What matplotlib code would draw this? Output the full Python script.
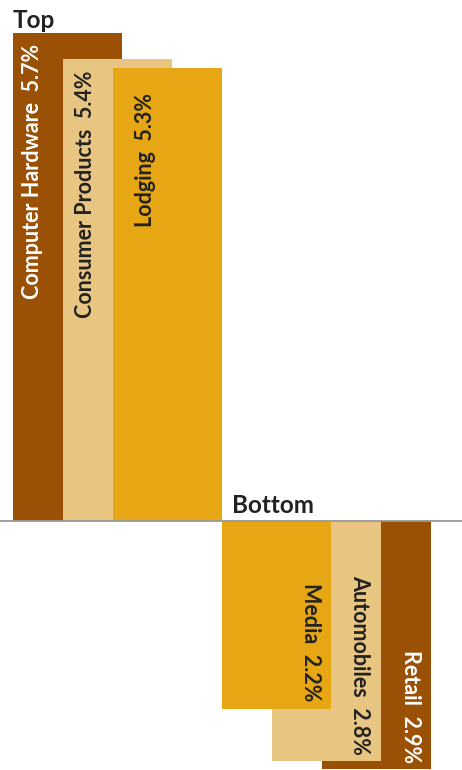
import matplotlib
matplotlib.use('Agg')
import matplotlib.pyplot as plt

top_names = ['Computer Hardware', 'Consumer Products', 'Lodging']
top_values = [5.7, 5.4, 5.3]
bottom_names = ['Media', 'Automobiles', 'Retail']
bottom_values = [2.2, 2.8, 2.9]

brown = '#9a5105'
tan = '#e8c682'
gold = '#e7a614'
top_colors = [brown, tan, gold]
bottom_colors = [gold, tan, brown]
dark = '#222222'

plt.rcParams['font.family'] = ['Lato', 'DejaVu Sans']

fig = plt.figure(figsize=(4.62, 7.7), dpi=100)
ax = fig.add_axes([0, 0, 1, 1])

width = 2.18
step = 1.0

# top group: later bars sit in front
for i, (name, v) in enumerate(zip(top_names, top_values)):
    left = i * step
    ax.bar(left, v, width=width, align='edge', color=top_colors[i], zorder=2 + i)
    ax.text(left + [0.4, 0.46, 0.64][i], v - [0.12, 0.13, 0.3][i],
            f'{name}  {v}%', rotation=90, ha='center', va='top',
            fontsize=15.5, fontweight='bold',
            color='white' if top_colors[i] == brown else dark, zorder=10)

# bottom group: earlier bars sit in front
start = 2 * step + width
for i, (name, v) in enumerate(zip(bottom_names, bottom_values)):
    left = start + i * step
    ax.bar(left, -v, width=width, align='edge', color=bottom_colors[i], zorder=5 - i)
    ax.text(left + width - 0.42, -v + [0.09, 0.07, 0.07][i],
            f'{name}  {v}%', rotation=-90, ha='center', va='bottom',
            fontsize=15.5, fontweight='bold',
            color='white' if bottom_colors[i] == brown else dark, zorder=10)

ax.axhline(0, color='#999999', lw=1.3, zorder=8)

ax.text(0, 6.09 - 0.1, 'Top', ha='left', va='top', fontsize=17.5,
        fontweight='bold', color=dark)
ax.text(start + 0.2, 0.05, 'Bottom', ha='left', va='bottom', fontsize=17.5,
        fontweight='bold', color=dark)

ax.set_xlim(-0.26, 8.98)
ax.set_ylim(-2.91, 6.09)
ax.axis('off')

fig.savefig('out.png', dpi=100)
